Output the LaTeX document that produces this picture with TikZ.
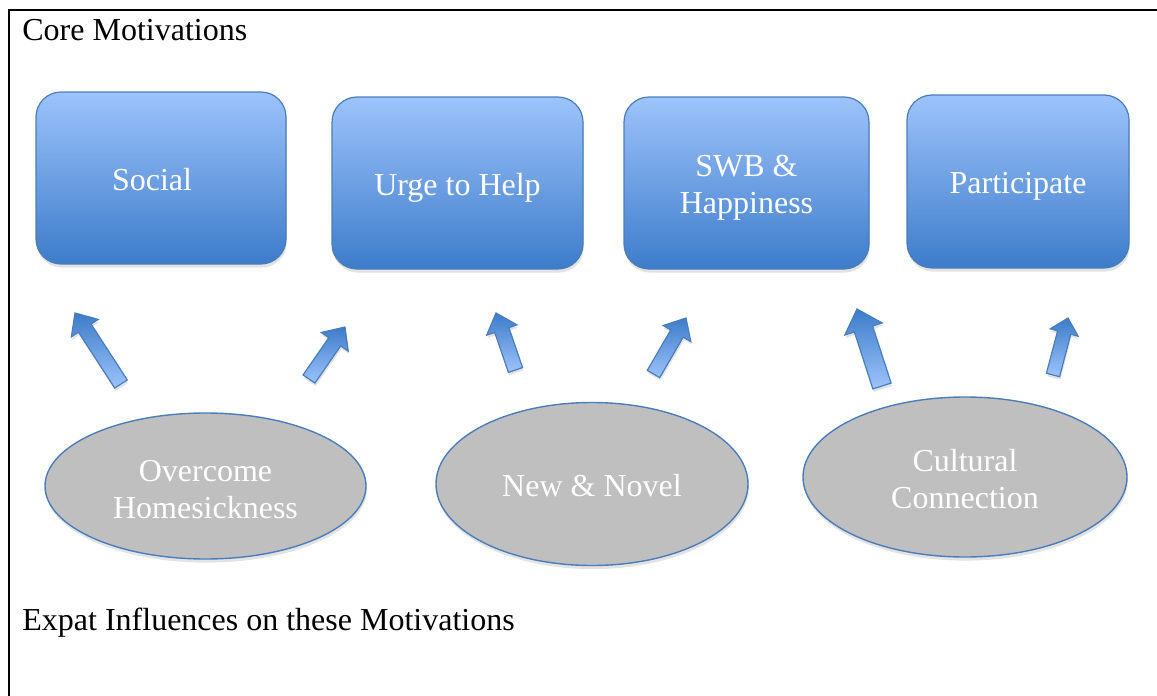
\documentclass[tikz,border=0pt]{standalone}
\usepackage{fontspec}
\setmainfont{Liberation Serif}
\usetikzlibrary{calc,shapes.geometric,shadows}
\definecolor{boxtop}{HTML}{9DC3FB}
\definecolor{boxbot}{HTML}{3D7CCA}
\definecolor{edgeblue}{HTML}{4A7EBB}
\definecolor{ellfill}{HTML}{BFBFBF}
\tikzset{
  txt/.style={font=\fontsize{16}{18.5}\selectfont},
  mybox/.style={rectangle, rounded corners=12.5pt, draw=edgeblue, line width=0.6pt,
    top color=boxtop, bottom color=boxbot, inner sep=0pt,
    drop shadow={opacity=0.22, shadow xshift=0.4pt, shadow yshift=-1.8pt}},
  boxlabel/.style={text=white, txt, align=center, inner sep=0pt},
  myell/.style={ellipse, draw=edgeblue, line width=0.7pt, fill=ellfill, inner sep=0pt,
    drop shadow={opacity=0.22, shadow xshift=0.4pt, shadow yshift=-1.8pt}},
  heading/.style={anchor=base west, inner sep=0pt, txt},
  blockarrow/.style={draw=edgeblue, line width=0.6pt, top color=boxbot, bottom color=boxtop,
    drop shadow={opacity=0.22, shadow xshift=0.4pt, shadow yshift=-1.5pt}},
  frameline/.style={line width=1.3pt, black}
}
% #1 tail, #2 tip, #3 shaft half width, #4 head half width, #5 head length
\newcommand\blockarr[5]{%
  \coordinate (hb) at ($(#2)!#5!(#1)$);
  \path[blockarrow] ($(#1)!#3!90:(#2)$) -- ($(hb)!#3!-90:(#1)$) -- ($(hb)!#4!-90:(#1)$)
    -- (#2) -- ($(hb)!#4!90:(#1)$) -- ($(hb)!#3!90:(#1)$) -- ($(#1)!#3!-90:(#2)$) -- cycle;
}
\begin{document}
\begin{tikzpicture}[x=0.5pt, y=-0.5pt]
\useasboundingbox (0,0) rectangle (1157,696);
% frame
\coordinate (fbl) at (9,700);
\coordinate (ftl) at (9,10);
\coordinate (ftr) at (1160,10);
\draw[frameline] (fbl) -- (ftl) -- (ftr);

\node[heading] (core) at (22,40) {Core Motivations};
\node[heading] (expat) at (22,630) {Expat Influences on these Motivations};

% boxes
\node[mybox, minimum width=125pt, minimum height=86pt] (social) at (161,178) {};
\node[mybox, minimum width=125.5pt, minimum height=86pt] (urge) at (457.5,183) {};
\node[mybox, minimum width=122.5pt, minimum height=86pt] (swb) at (746.5,183) {};
\node[mybox, minimum width=111pt, minimum height=86.5pt] (part) at (1018,181.5) {};
\node[boxlabel] (socialtxt) at (152,179.5) {Social};
\node[boxlabel] (urgetxt) at (457.5,188) {Urge to Help};
\node[boxlabel] (swbtxt) at (746.5,188) {SWB \&\\Happiness};
\node[boxlabel] (parttxt) at (1018,186) {Participate};

% ellipses
\node[myell, minimum width=160.5pt, minimum height=73pt] (home) at (205.5,486) {};
\node[myell, minimum width=156pt, minimum height=81.5pt] (novel) at (592,484) {};
\node[myell, minimum width=162pt, minimum height=80pt] (cult) at (965,477) {};
\node[boxlabel] (hometxt) at (205.5,490) {Overcome\\Homesickness};
\node[boxlabel] (noveltxt) at (592,486) {New \& Novel};
\node[boxlabel] (culttxt) at (965,479.5) {Cultural\\Connection};

% arrow end points
\coordinate (a1t) at (121,384);  \coordinate (a1h) at (75,313);
\coordinate (a2t) at (309,379);  \coordinate (a2h) at (345,327);
\coordinate (a3t) at (515.5,370);\coordinate (a3h) at (496,313);
\coordinate (a4t) at (653.5,374);\coordinate (a4h) at (686,318);
\coordinate (a5t) at (882,386);  \coordinate (a5h) at (857,309);
\coordinate (a6t) at (1053,375); \coordinate (a6h) at (1068,318);

\blockarr{a1t}{a1h}{3.75pt}{8pt}{9pt}
\blockarr{a2t}{a2h}{3.6pt}{8.2pt}{9pt}
\blockarr{a3t}{a3h}{3.75pt}{8pt}{9pt}
\blockarr{a4t}{a4h}{3.6pt}{8pt}{9pt}
\blockarr{a5t}{a5h}{4.8pt}{9.8pt}{10.5pt}
\blockarr{a6t}{a6h}{3.4pt}{7.2pt}{7.5pt}
\end{tikzpicture}
\end{document}
